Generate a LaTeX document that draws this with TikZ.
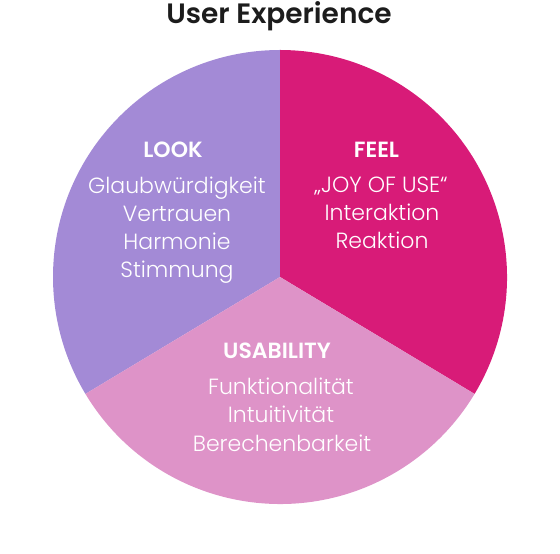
\documentclass[tikz,border=0pt]{standalone}
\usepackage{fontspec}
\setmainfont{Poppins}[UprightFont=* Light,BoldFont=* SemiBold]
\newfontfamily\titlefont{Poppins}[UprightFont=* SemiBold]
\definecolor{lookc}{HTML}{A38AD6}
\definecolor{feelc}{HTML}{D81B78}
\definecolor{usec}{HTML}{DE93C8}
\definecolor{titlec}{HTML}{1C1C1C}
\begin{document}
\begin{tikzpicture}[x=1pt,y=1pt,
  body/.style={anchor=base,text=white,inner sep=0pt,font=\fontsize{22}{26}\selectfont},
  head/.style={anchor=base,text=white,inner sep=0pt,font=\bfseries\fontsize{22}{26}\selectfont}]
\useasboundingbox (0,0) rectangle (560,554);
\coordinate (c) at (280,277);
\fill[lookc] (c) -- ++(90:227) arc (90:211:227) -- cycle;
\fill[feelc] (c) -- ++(-31:227) arc (-31:90:227) -- cycle;
\fill[usec] (c) -- ++(211:227) arc (211:329:227) -- cycle;
\node[anchor=base,text=titlec,inner sep=0pt,font=\titlefont\fontsize{28}{32}\selectfont] (title) at (279,530) {User Experience};
\node[head] (look) at (173,396) {LOOK};
\node[body] (l1) at (177,360) {Glaubwürdigkeit};
\node[body] (l2) at (177,332) {Vertrauen};
\node[body] (l3) at (177,304) {Harmonie};
\node[body] (l4) at (177,276) {Stimmung};
\node[head] (feel) at (376.5,396) {FEEL};
\node[body] (f1) at (381,361) {„JOY OF USE“};
\node[body] (f2) at (382,333) {Interaktion};
\node[body] (f3) at (382,305) {Reaktion};
\node[head] (use) at (277,195) {USABILITY};
\node[body] (u1) at (281,159) {Funktionalität};
\node[body] (u2) at (281,131) {Intuitivität};
\node[body] (u3) at (282,102) {Berechenbarkeit};
\end{tikzpicture}
\end{document}
